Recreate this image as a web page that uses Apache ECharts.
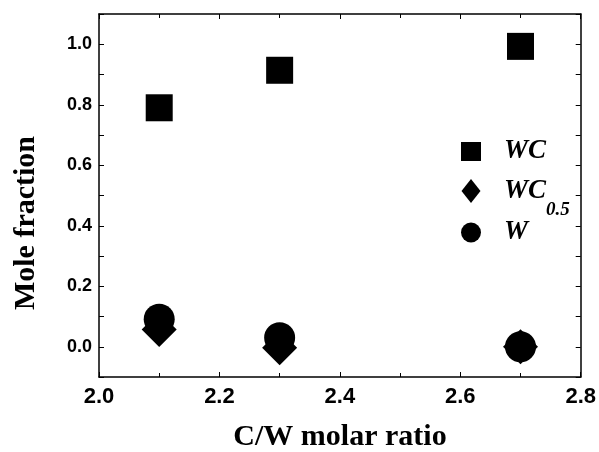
<!DOCTYPE html>
<html>
<head>
<meta charset="utf-8">
<script src="https://cdn.jsdelivr.net/npm/echarts@6/dist/echarts.min.js"></script>
<style>
html,body{margin:0;padding:0;background:#fff;}
#chart{width:599px;height:452px;}
</style>
</head>
<body>
<div id="chart"></div>
<script>
// C/W molar ratio of the feed
const ratios = [2.1, 2.3, 2.7];
// mole fractions of each phase
const wcValues = [0.79, 0.914, 0.993];
const wc05Values = [0.057, -0.003, 0.0];
const wValues = [0.091, 0.03, 0.0];
const seriesNames = ['WC', 'WC0.5', 'W'];
const xTitle = 'C/W molar ratio';
const yTitle = 'Mole fraction';

const chart = echarts.init(document.getElementById('chart'));

const pairs = vals => ratios.map((r, i) => [r, vals[i]]);

const serif = 'Liberation Serif, Times New Roman, serif';
const sans = 'Liberation Sans, Arial, sans-serif';
const axisLine = { show: true, onZero: false, lineStyle: { color: '#000', width: 1.5 } };
const tick = { show: true, inside: true, length: 5, lineStyle: { color: '#000', width: 1 } };

function xAx(pos, labels) {
  return {
    type: 'value', position: pos, min: 2.0, max: 2.8, interval: 0.2,
    axisLine: axisLine, axisTick: tick,
    minorTick: { show: true, splitNumber: 2, length: 4, lineStyle: { color: '#000', width: 1 } },
    axisLabel: labels
      ? { show: true, margin: 9, formatter: v => v.toFixed(1), fontFamily: sans, fontWeight: 'bold', fontSize: 22, color: '#000' }
      : { show: false },
    splitLine: { show: false }
  };
}
function yAx(pos, labels) {
  return {
    type: 'value', position: pos, min: -0.1, max: 1.1, interval: 0.1,
    axisLine: axisLine, axisTick: tick,
    axisLabel: labels
      ? {
          show: true, margin: 7, fontFamily: sans, fontWeight: 'bold', fontSize: 18, color: '#000',
          formatter: v => {
            const r = Math.round(v * 10);
            if (r % 2 !== 0 || r < 0 || r > 10) return '';
            return (r / 10).toFixed(1);
          }
        }
      : { show: false },
    splitLine: { show: false }
  };
}

const titleStyle = { fill: '#000', fontFamily: serif, fontWeight: 'bold', fontSize: 30, align: 'center', verticalAlign: 'middle' };

// rich text styles for legend entries: main symbol plus lowered subscript
const legendRich = {
  m: { fontFamily: serif, fontStyle: 'italic', fontWeight: 'bold', fontSize: 27, color: '#000', lineHeight: 28, verticalAlign: 'middle' },
  s: { fontFamily: serif, fontStyle: 'italic', fontWeight: 'bold', fontSize: 19, color: '#000', lineHeight: 20, verticalAlign: 'top', padding: [24, 0, 0, 0] }
};
function legendEntry(name, icon, top, w, h) {
  return {
    orient: 'vertical', left: 466 - w / 2, top: top,
    itemWidth: w, itemHeight: h,
    data: [{ name: name, icon: icon, itemStyle: { color: '#000' } }],
    formatter: n => n === 'WC0.5' ? '{m|WC}{s|0.5}' : '{m|' + n + '}',
    textStyle: { padding: [0, 0, 0, 28 - w / 2], rich: legendRich }
  };
}

chart.setOption({
  animation: false,
  backgroundColor: '#fff',
  grid: { left: 99, right: 17, top: 14, bottom: 75 },
  xAxis: [xAx('bottom', true), xAx('top', false)],
  yAxis: [yAx('left', true), yAx('right', false)],
  graphic: [
    { type: 'text', x: 340, y: 437, style: Object.assign({ text: xTitle }, titleStyle) },
    { type: 'text', x: 26, y: 223, rotation: Math.PI / 2, style: Object.assign({ text: yTitle }, titleStyle) }
  ],
  legend: [
    legendEntry('WC', 'rect', 133, 20, 19),
    legendEntry('WC0.5', 'diamond', 172, 19, 24),
    legendEntry('W', 'circle', 214, 20, 20)
  ],
  series: [
    { name: seriesNames[0], type: 'scatter', symbol: 'rect', symbolSize: 27, itemStyle: { color: '#000', opacity: 1 }, data: pairs(wcValues) },
    { name: seriesNames[1], type: 'scatter', symbol: 'diamond', symbolSize: 35, itemStyle: { color: '#000', opacity: 1 }, data: pairs(wc05Values) },
    { name: seriesNames[2], type: 'scatter', symbol: 'circle', symbolSize: 31, itemStyle: { color: '#000', opacity: 1 }, data: pairs(wValues) }
  ]
});
</script>
</body>
</html>
